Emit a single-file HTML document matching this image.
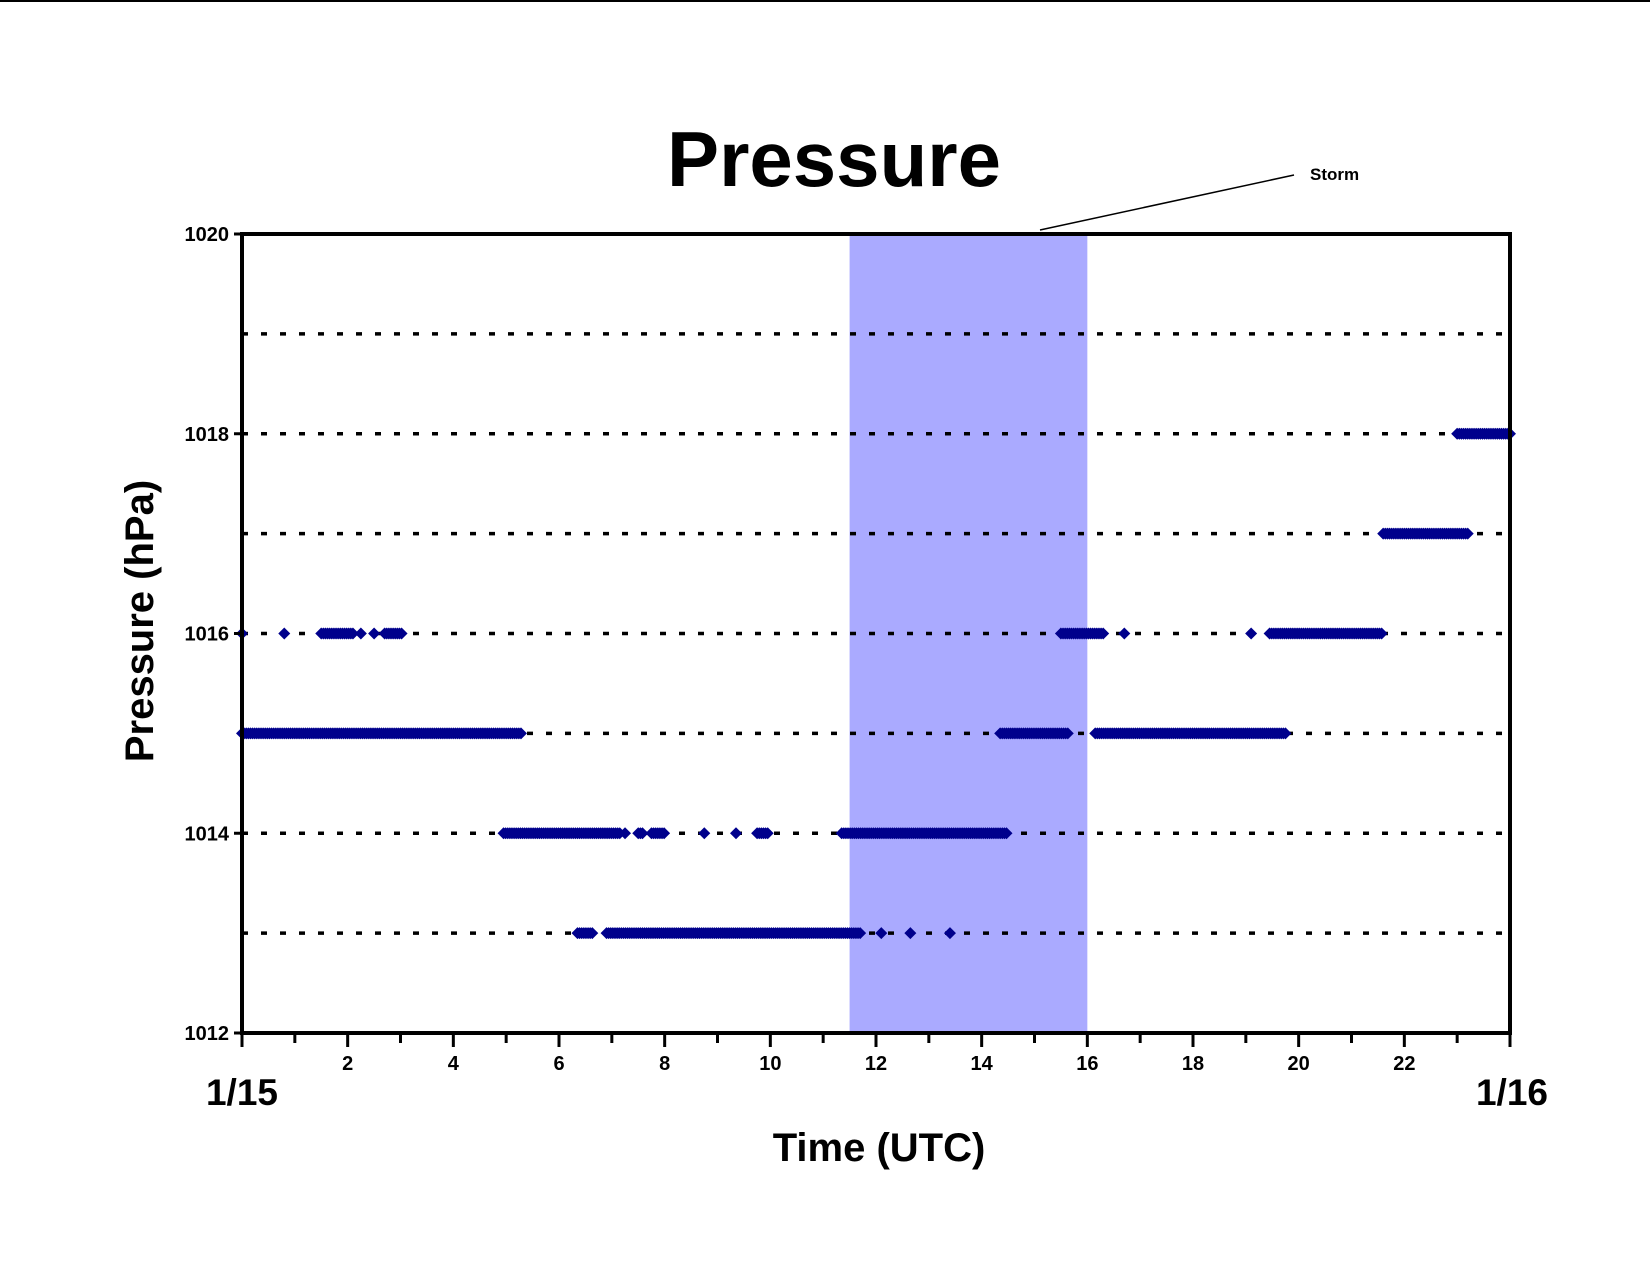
<!DOCTYPE html>
<html><head><meta charset="utf-8"><style>
body{margin:0;background:#fff}
svg{display:block;font-family:"Liberation Sans",Arial,sans-serif;font-weight:bold}
</style></head><body>
<svg id="chart" width="1650" height="1275" viewBox="0 0 1650 1275">
<line x1="0" y1="1" x2="1650" y2="1" stroke="#000" stroke-width="2"/>
<text x="834" y="186" font-size="78" text-anchor="middle">Pressure</text>
<g id="plot"></g>
<text x="1310" y="180" font-size="17">Storm</text>
<line x1="1040" y1="230" x2="1294" y2="175" stroke="#000" stroke-width="1.5"/>
<text x="153" y="621" font-size="40" text-anchor="middle" transform="rotate(-90 153 621)">Pressure (hPa)</text>
<text x="879" y="1161" font-size="40" text-anchor="middle">Time (UTC)</text>
<text x="242" y="1105" font-size="37" text-anchor="middle">1/15</text>
<text x="1512" y="1105" font-size="37" text-anchor="middle">1/16</text>
</svg>
<script>
const yTicks=[1012,1014,1016,1018,1020];
const gridLevels=[1013,1014,1015,1016,1017,1018,1019];
const xTicks=[2,4,6,8,10,12,14,16,18,20,22];
const stormStart=11.5, stormEnd=16;
// runs: [pressure, startHour, endHour]
const runLevels=[1016,1016,1016,1016,1015,1015,1015,1014,1014,1014,1014,1014,1013,1013,1017,1018];
const runStarts=[1.5,2.7,15.5,19.45,0,14.35,16.15,4.95,7.5,7.75,9.75,11.35,6.35,6.9,21.6,23.0];
const runEnds=[2.1,3.05,16.3,21.6,5.3,15.65,19.75,7.15,7.6,8.0,9.95,14.5,6.65,11.7,23.2,24.0];
// isolated points
const ptLevels=[1016,1016,1016,1016,1016,1016,1014,1014,1014,1013,1013,1013];
const ptHours=[0,0.8,2.25,2.5,16.7,19.1,7.25,8.75,9.35,12.1,12.65,13.4];

const X0=242,X1=1510,Y0=1033,Y1=234;
const xs=h=>X0+(h/24)*(X1-X0);
const ys=p=>Y0-(p-1012)/8*(Y0-Y1);
const NS="http://www.w3.org/2000/svg";
const plot=document.getElementById('plot');
function mk(tag,attrs){const e=document.createElementNS(NS,tag);for(const k in attrs)e.setAttribute(k,attrs[k]);plot.appendChild(e);return e;}

let r=mk('rect',{x:xs(stormStart),y:Y1,width:xs(stormEnd)-xs(stormStart),height:Y0-Y1,fill:'#aaaaff'});



gridLevels.forEach(p=>{
  const l=mk('line',{x1:X0,y1:ys(p),x2:X1,y2:ys(p),stroke:'#000','stroke-width':3.5,'stroke-dasharray':'6 13'});
  
  
});

function diamond(h,p){
  const x=xs(h),y=ys(p);
  const d=mk('polygon',{points:`${x-6},${y} ${x},${y-6} ${x+6},${y} ${x},${y+6}`,fill:'#00008c'});
  
  
}
for(let i=0;i<runLevels.length;i++){
  for(let h=runStarts[i];h<=runEnds[i]+1e-6;h+=0.04) diamond(h,runLevels[i]);
}
for(let i=0;i<ptLevels.length;i++) diamond(ptHours[i],ptLevels[i]);

const frame=mk('rect',{x:X0,y:Y1,width:X1-X0,height:Y0-Y1,fill:'none',stroke:'#000','stroke-width':4});



yTicks.forEach(p=>{
  const t=mk('line',{x1:X0-8,y1:ys(p),x2:X0,y2:ys(p),stroke:'#000','stroke-width':3});
  
  
  const tx=mk('text',{x:X0-13,y:ys(p)+7,'font-size':20,'text-anchor':'end'});
  tx.textContent=p;
  
  
});
for(let h=0;h<=24;h++){
  const t=mk('line',{x1:xs(h),y1:Y0,x2:xs(h),y2:Y0+(h%2==0?14:10),stroke:'#000','stroke-width':3});
  
  
}
xTicks.forEach(h=>{
  const tx=mk('text',{x:xs(h),y:Y0+37,'font-size':20,'text-anchor':'middle'});
  tx.textContent=h;
  
  
});
</script>
</body></html>
